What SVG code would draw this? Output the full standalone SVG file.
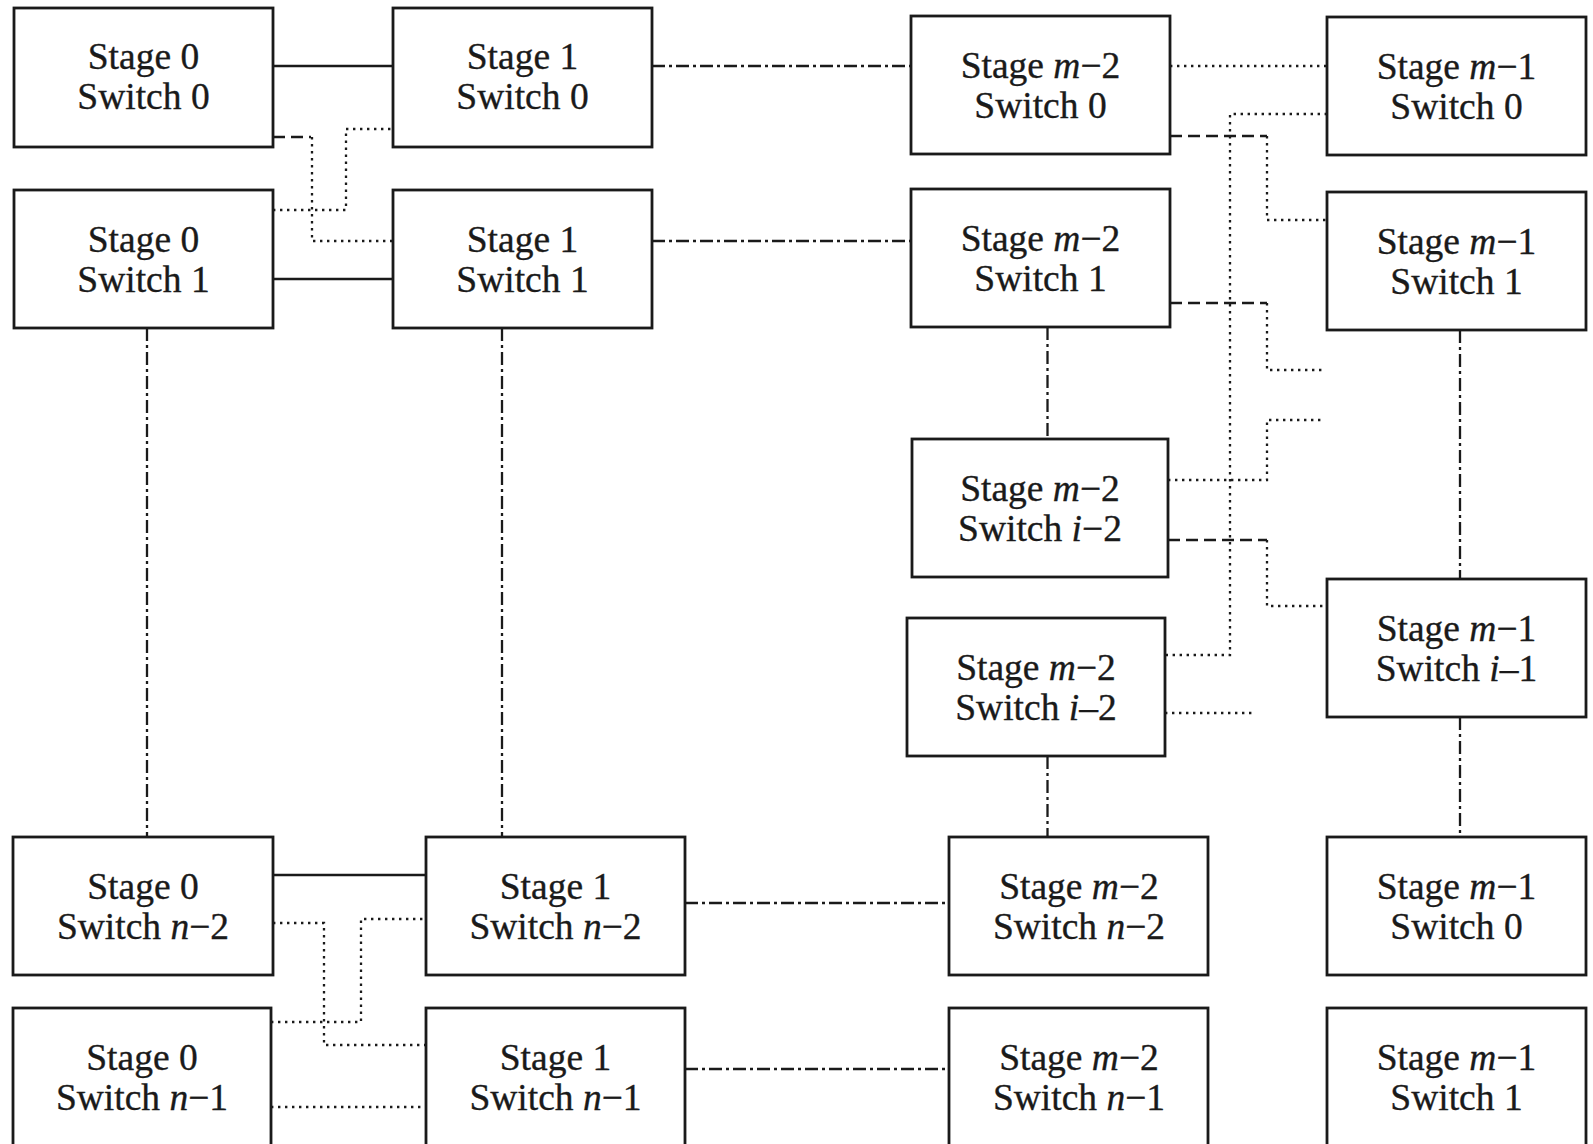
<svg xmlns="http://www.w3.org/2000/svg" width="1593" height="1144" viewBox="0 0 1593 1144">
<style>
.box{fill:#fff;stroke:#1a1a1a;stroke-width:2.8}
.t{font-family:"Liberation Serif","Times New Roman",serif;font-size:37.5px;fill:#1a1a1a;stroke:#1a1a1a;stroke-width:0.35;text-anchor:middle}
.i{font-style:italic}
.c{fill:none;stroke:#1a1a1a;stroke-width:2.3}
.solid{}
.dash{stroke-dasharray:12 6}
.dot{stroke-dasharray:2.4 4.6}
.dd{stroke-dasharray:13 4 3 4}
</style>
<rect width="1593" height="1144" fill="#fff"/>
<g id="connectors">
<path class="c solid" d="M273 66H393"/>
<path class="c solid" d="M273 279H393"/>
<path class="c solid" d="M273 875H426"/>
<path class="c dash" d="M273 137H311"/>
<path class="c dash" d="M1170 136H1267"/>
<path class="c dash" d="M1170 303H1267"/>
<path class="c dash" d="M1168 540H1267"/>
<path class="c dot" d="M312 137V241H393"/>
<path class="c dot" d="M273 210H346V129H393"/>
<path class="c dot" d="M1170 66H1327"/>
<path class="c dot" d="M1327 114H1230V655H1165"/>
<path class="c dot" d="M1267 136V220H1327"/>
<path class="c dot" d="M1267 303V370H1323"/>
<path class="c dot" d="M1168 480H1267V420H1323"/>
<path class="c dot" d="M1267 540V606H1327"/>
<path class="c dot" d="M1165 713H1253"/>
<path class="c dot" d="M273 923H324V1045H426"/>
<path class="c dot" d="M271 1022H361V919H426"/>
<path class="c dot" d="M271 1107H426"/>
<path class="c dd" d="M652 66H911"/>
<path class="c dd" d="M652 241H911"/>
<path class="c dd" d="M147 328V837"/>
<path class="c dd" d="M502 328V837"/>
<path class="c dd" d="M1047.5 327V439"/>
<path class="c dd" d="M1047.5 756V837"/>
<path class="c dd" d="M1460 330V579"/>
<path class="c dd" d="M1460 717V837"/>
<path class="c dd" d="M685 903H949"/>
<path class="c dd" d="M685 1069H949"/>
</g>
<g id="s0-sw0"><rect class="box" x="14" y="8" width="259" height="139"/><text class="t" x="143.5" y="69">Stage 0</text><text class="t" x="143.5" y="109">Switch 0</text></g>
<g id="s0-sw1"><rect class="box" x="14" y="190" width="259" height="138"/><text class="t" x="143.5" y="252">Stage 0</text><text class="t" x="143.5" y="292">Switch 1</text></g>
<g id="s1-sw0"><rect class="box" x="393" y="8" width="259" height="139"/><text class="t" x="522.5" y="69">Stage 1</text><text class="t" x="522.5" y="109">Switch 0</text></g>
<g id="s1-sw1"><rect class="box" x="393" y="190" width="259" height="138"/><text class="t" x="522.5" y="252">Stage 1</text><text class="t" x="522.5" y="292">Switch 1</text></g>
<g id="sm2-sw0"><rect class="box" x="911" y="16" width="259" height="138"/><text class="t" x="1040.5" y="78">Stage <tspan class="i">m</tspan>−2</text><text class="t" x="1040.5" y="118">Switch 0</text></g>
<g id="sm2-sw1"><rect class="box" x="911" y="189" width="259" height="138"/><text class="t" x="1040.5" y="251">Stage <tspan class="i">m</tspan>−2</text><text class="t" x="1040.5" y="291">Switch 1</text></g>
<g id="sm2-swi2a"><rect class="box" x="912" y="439" width="256" height="138"/><text class="t" x="1040" y="501">Stage <tspan class="i">m</tspan>−2</text><text class="t" x="1040" y="541">Switch <tspan class="i">i</tspan>−2</text></g>
<g id="sm2-swi2b"><rect class="box" x="907" y="618" width="258" height="138"/><text class="t" x="1036" y="680">Stage <tspan class="i">m</tspan>−2</text><text class="t" x="1036" y="720">Switch <tspan class="i">i</tspan>–2</text></g>
<g id="sm1-sw0"><rect class="box" x="1327" y="17" width="259" height="138"/><text class="t" x="1456.5" y="79">Stage <tspan class="i">m</tspan>−1</text><text class="t" x="1456.5" y="119">Switch 0</text></g>
<g id="sm1-sw1"><rect class="box" x="1327" y="192" width="259" height="138"/><text class="t" x="1456.5" y="254">Stage <tspan class="i">m</tspan>−1</text><text class="t" x="1456.5" y="294">Switch 1</text></g>
<g id="sm1-swi1"><rect class="box" x="1327" y="579" width="259" height="138"/><text class="t" x="1456.5" y="641">Stage <tspan class="i">m</tspan>−1</text><text class="t" x="1456.5" y="681">Switch <tspan class="i">i</tspan>–1</text></g>
<g id="s0-swn2"><rect class="box" x="13" y="837" width="260" height="138"/><text class="t" x="143" y="899">Stage 0</text><text class="t" x="143" y="939">Switch <tspan class="i">n</tspan>−2</text></g>
<g id="s0-swn1"><rect class="box" x="13" y="1008" width="258" height="142"/><text class="t" x="142" y="1070">Stage 0</text><text class="t" x="142" y="1110">Switch <tspan class="i">n</tspan>−1</text></g>
<g id="s1-swn2"><rect class="box" x="426" y="837" width="259" height="138"/><text class="t" x="555.5" y="899">Stage 1</text><text class="t" x="555.5" y="939">Switch <tspan class="i">n</tspan>−2</text></g>
<g id="s1-swn1"><rect class="box" x="426" y="1008" width="259" height="142"/><text class="t" x="555.5" y="1070">Stage 1</text><text class="t" x="555.5" y="1110">Switch <tspan class="i">n</tspan>−1</text></g>
<g id="sm2-swn2"><rect class="box" x="949" y="837" width="259" height="138"/><text class="t" x="1079" y="899">Stage <tspan class="i">m</tspan>−2</text><text class="t" x="1079" y="939">Switch <tspan class="i">n</tspan>−2</text></g>
<g id="sm2-swn1"><rect class="box" x="949" y="1008" width="259" height="142"/><text class="t" x="1079" y="1070">Stage <tspan class="i">m</tspan>−2</text><text class="t" x="1079" y="1110">Switch <tspan class="i">n</tspan>−1</text></g>
<g id="sm1-sw0b"><rect class="box" x="1327" y="837" width="259" height="138"/><text class="t" x="1456.5" y="899">Stage <tspan class="i">m</tspan>−1</text><text class="t" x="1456.5" y="939">Switch 0</text></g>
<g id="sm1-sw1b"><rect class="box" x="1327" y="1008" width="259" height="142"/><text class="t" x="1456.5" y="1070">Stage <tspan class="i">m</tspan>−1</text><text class="t" x="1456.5" y="1110">Switch 1</text></g>
</svg>
